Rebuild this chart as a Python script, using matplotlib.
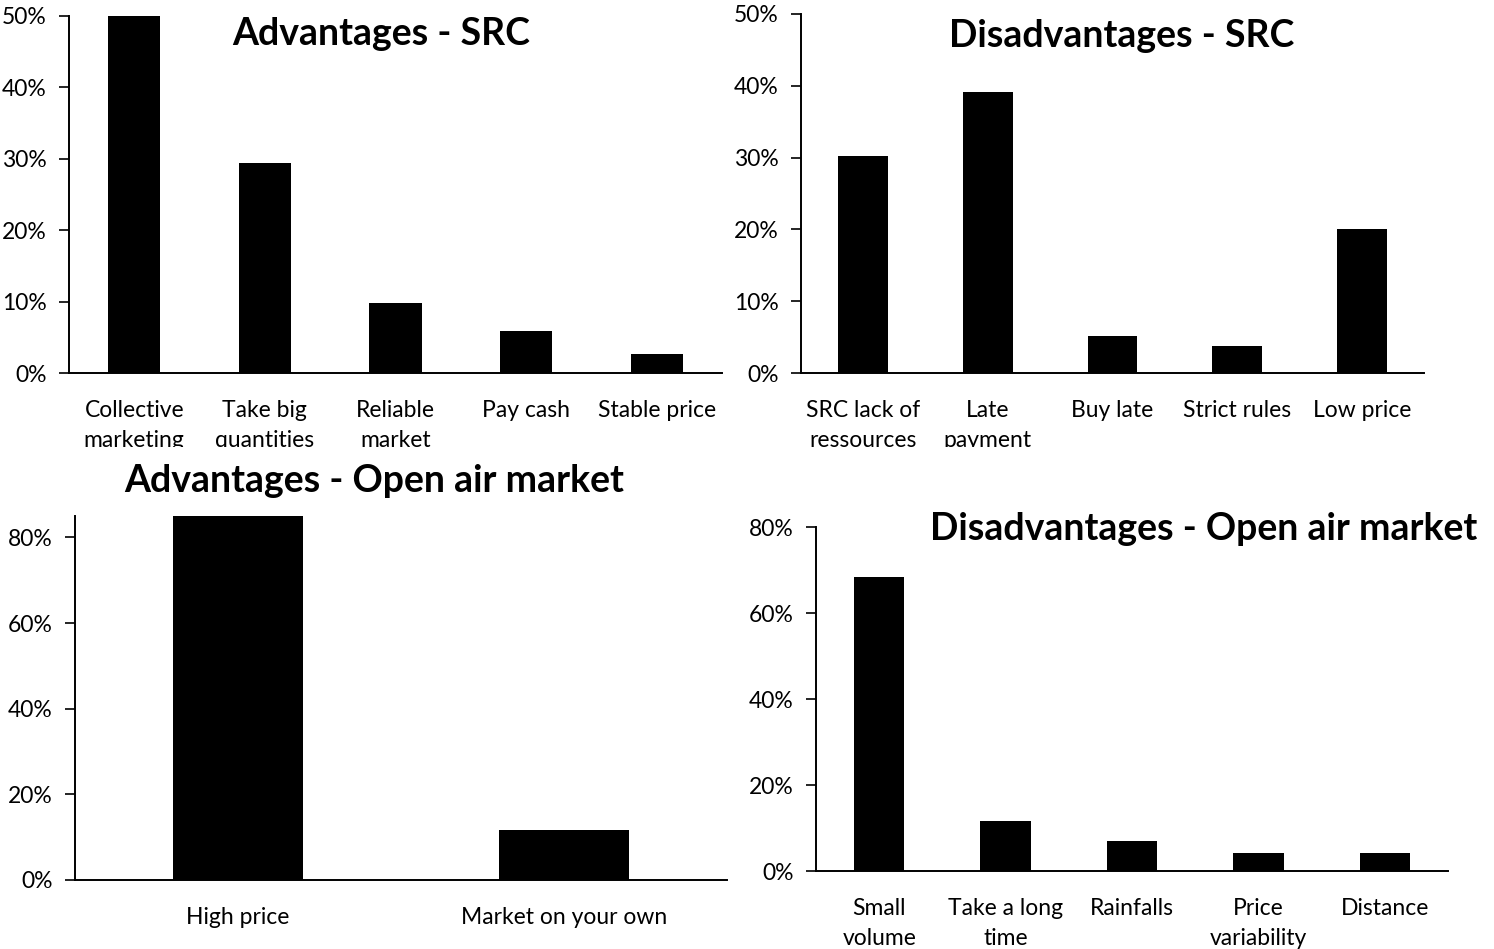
import matplotlib
matplotlib.use("Agg")
from matplotlib import pyplot as plt
from matplotlib.ticker import PercentFormatter
from matplotlib.transforms import Bbox, TransformedBbox, offset_copy

plt.rcParams["font.family"] = ["Lato", "DejaVu Sans"]

W, H = 1494, 949

# advantages of selling through the SRC
adv_src_labels = ["Collective\nmarketing", "Take big\nquantities", "Reliable\nmarket",
                  "Pay cash", "Stable price"]
adv_src_values = [0.50, 0.294, 0.098, 0.059, 0.027]

# disadvantages of the SRC
dis_src_labels = ["SRC lack of\nressources", "Late\npayment", "Buy late",
                  "Strict rules", "Low price"]
dis_src_values = [0.302, 0.391, 0.052, 0.037, 0.201]

# advantages of the open air market
adv_oam_labels = ["High price", "Market on your own"]
adv_oam_values = [0.85, 0.117]

# disadvantages of the open air market
dis_oam_labels = ["Small\nvolume", "Take a long\ntime", "Rainfalls",
                  "Price\nvariability", "Distance"]
dis_oam_values = [0.684, 0.116, 0.07, 0.042, 0.042]

LABEL_SIZE = 16.5
TITLE_SIZE = 27


def panel(fig, box, labels, values, ymax, ystep, title, title_xy, clip_y=None):
    """box is (left, top, right, bottom) in pixels from the top-left corner."""
    left, top, right, bottom = box
    ax = fig.add_axes([left / W, 1 - bottom / H, (right - left) / W, (bottom - top) / H])
    xs = range(len(values))
    ax.bar(xs, values, width=0.4, color="black")
    ax.set_xlim(-0.5, len(values) - 0.5)
    ax.set_ylim(0, ymax)
    ax.set_yticks([i * ystep for i in range(int(round(ymax / ystep + 1e-9)) + 1)])
    ax.yaxis.set_major_formatter(PercentFormatter(1.0, decimals=0))
    ax.set_xticks([])
    ax.tick_params(axis="y", length=7, width=1.2, direction="out", pad=9,
                   labelsize=LABEL_SIZE)
    for side in ("top", "right"):
        ax.spines[side].set_visible(False)
    for side in ("left", "bottom"):
        ax.spines[side].set_linewidth(1.4)

    # category labels as plain text so the second line can be cut like the original
    trans = offset_copy(ax.get_xaxis_transform(), fig=fig, y=-27, units="dots")
    clip = None
    if clip_y is not None:
        clip = TransformedBbox(Bbox([[0, 1 - clip_y / H], [1, 1]]), fig.transFigure)
    for x, lab in zip(xs, labels):
        t = ax.text(x, 0, lab, transform=trans, ha="center", va="top",
                    fontsize=LABEL_SIZE, linespacing=1.55, multialignment="center")
        if clip is not None:
            t.set_clip_on(True)
            t.set_clip_box(clip)
        else:
            t.set_clip_on(False)

    fig.text(title_xy[0] / W, 1 - title_xy[1] / H, title, fontsize=TITLE_SIZE,
             fontweight="bold", ha="center", va="center")
    return ax


def main():
    fig = plt.figure(figsize=(W / 100, H / 100), dpi=100)

    panel(fig, (69, 16, 722, 373), adv_src_labels, adv_src_values, 0.5, 0.1,
          "Advantages - SRC", (381, 34), clip_y=447)
    panel(fig, (801, 14, 1424, 373), dis_src_labels, dis_src_values, 0.5, 0.1,
          "Disadvantages - SRC", (1122, 36), clip_y=447)
    panel(fig, (75, 516, 727, 880), adv_oam_labels, adv_oam_values, 0.85, 0.2,
          "Advantages - Open air market", (374, 481))
    panel(fig, (816, 527, 1448, 871), dis_oam_labels, dis_oam_values, 0.8, 0.2,
          "Disadvantages - Open air market", (1204, 529))

    fig.savefig("out.png", dpi=100)


if __name__ == "__main__":
    main()
